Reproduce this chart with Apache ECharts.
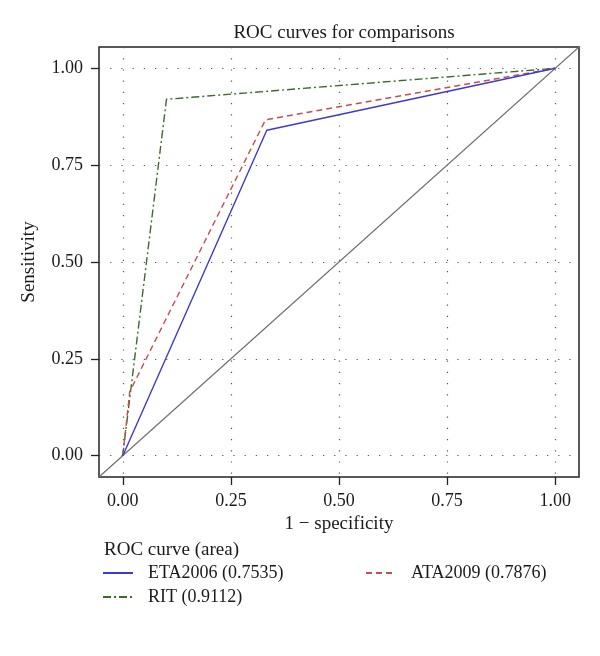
<!DOCTYPE html>
<html>
<head>
<meta charset="utf-8">
<script src="https://cdn.jsdelivr.net/npm/echarts@6/dist/echarts.min.js"></script>
<style>html,body{margin:0;padding:0;background:#fff;}#c{width:600px;height:656px;}</style>
</head>
<body>
<div id="c"></div>
<script>
var tickValues = [0, 0.25, 0.5, 0.75, 1];
var tickLabels = ['0.00', '0.25', '0.50', '0.75', '1.00'];
var seriesNames = ['ETA2006 (0.7535)', 'RIT (0.9112)', 'ATA2009 (0.7876)'];
var eta2006 = [[0, 0], [0.333, 0.840], [1, 1]];
var ata2009 = [[0, 0], [0.003, 0.03], [0.016, 0.165], [0.330, 0.867], [1, 1]];
var rit = [[0, 0], [0.002, 0.02], [0.101, 0.920], [1, 1]];
var diagonal = [[-0.1, -0.1], [1.1, 1.1]];
var axisMin = -0.055, axisMax = 1.055;

var font = 'Liberation Serif';
var txt = '#1a1a1a';
function axisCommon(name, isY) {
  return {
    type: 'value', min: axisMin, max: axisMax,
    name: name, nameLocation: 'middle', nameGap: isY ? 60 : 38,
    nameTextStyle: { fontFamily: font, fontSize: 19, color: txt },
    axisLine: { show: false, onZero: false },
    axisTick: { show: true, inside: false, length: 8, lineStyle: { color: '#222', width: 1.3 }, customValues: tickValues },
    axisLabel: { fontFamily: font, fontSize: 18, color: txt, margin: isY ? 16 : 15,
      customValues: tickValues,
      formatter: function (v) { var i = tickValues.indexOf(v); return i >= 0 ? tickLabels[i] : ''; } },
    splitLine: { show: true, lineStyle: { color: '#555', type: [1.2, 10], width: 1.2 } }
  };
}
var chart = echarts.init(document.getElementById('c'), null, { renderer: 'canvas' });
chart.setOption({
  animation: false,
  backgroundColor: '#fff',
  title: [
    { text: 'ROC curves for comparisons', left: 339, textAlign: 'center', top: 19,
      textStyle: { fontFamily: font, fontSize: 19, fontWeight: 'normal', color: txt } },
    { text: 'ROC curve (area)', left: 99, top: 536,
      textStyle: { fontFamily: font, fontSize: 19, fontWeight: 'normal', color: txt } }
  ],
  grid: { left: 99, right: 21, top: 47, bottom: 179, show: true, borderColor: '#222', borderWidth: 1.5, backgroundColor: 'transparent' },
  xAxis: axisCommon('1 \u2212 specificity', false),
  yAxis: axisCommon('Sensitivity', true),
  legend: [
    { data: [seriesNames[0]], left: 102, top: 564 },
    { data: [seriesNames[1]], left: 102, top: 588 },
    { data: [seriesNames[2]], left: 365, top: 564 }
  ].map(function (l) {
    return Object.assign(l, { orient: 'vertical', itemWidth: 30, itemHeight: 12, itemGap: 10, padding: 0,
      itemStyle: { opacity: 0 },
      textStyle: { fontFamily: font, fontSize: 18, color: txt, padding: [0, 0, 0, 10] } });
  }),
  series: [
    { name: 'diag', type: 'line', data: diagonal, symbol: 'none', silent: true, clip: true,
      lineStyle: { color: '#6e6e6e', width: 1.2 }, z: 1 },
    { name: seriesNames[0], type: 'line', data: eta2006, symbol: 'none', clip: true,
      lineStyle: { color: '#3b3bd0', width: 1.4, type: 'solid' }, itemStyle: { color: '#3b3bd0' }, z: 3 },
    { name: seriesNames[1], type: 'line', data: rit, symbol: 'none', clip: true,
      lineStyle: { color: '#3c6b2c', width: 1.4, type: [8, 3, 2, 3] }, itemStyle: { color: '#3c6b2c' }, z: 2 },
    { name: seriesNames[2], type: 'line', data: ata2009, symbol: 'none', clip: true,
      lineStyle: { color: '#c4504a', width: 1.4, type: [6, 4] }, itemStyle: { color: '#c4504a' }, z: 2 }
  ]
});
</script>
</body>
</html>
